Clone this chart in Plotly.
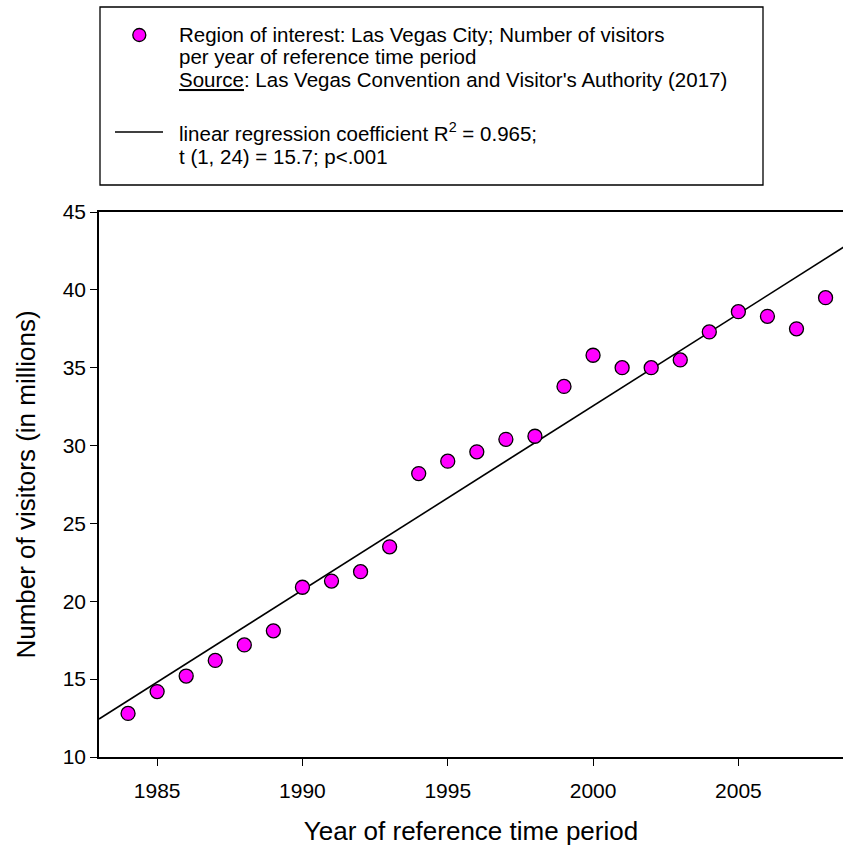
import numpy as np
import plotly.graph_objects as go

years = list(range(1984, 2009))
visitors = [12.8, 14.2, 15.2, 16.2, 17.2, 18.1, 20.9, 21.3, 21.9, 23.5,
            28.2, 29.0, 29.6, 30.4, 30.6, 33.8, 35.8, 35.0, 35.0, 35.5,
            37.3, 38.6, 38.3, 37.5, 39.5]
x_ticks = [1985, 1990, 1995, 2000, 2005]
y_ticks = [10, 15, 20, 25, 30, 35, 40, 45]
x_range = [1983, 2008.6]
y_range = [10, 45]

legend_lines_points = [
    "Region of interest: Las Vegas City; Number of visitors",
    "per year of reference time period",
    "<u>Source</u>: Las Vegas Convention and Visitor's Authority (2017)",
]
legend_lines_fit = [
    "linear regression coefficient R<sup>2</sup> = 0.965;",
    "t (1, 24) = 15.7; p<.001",
]

# regression from the data
slope, intercept = np.polyfit(years, visitors, 1)
fit_x = [x_range[0], 2010]
fit_y = [slope * v + intercept for v in fit_x]

FONT = "Liberation Sans, Arial, sans-serif"
W, H = 843, 851
L, R, T, B = 99, 0, 212, 94
PW, PH = W - L - R, H - T - B


def X(px):
    return (px - L) / PW


def Y(py):
    return (H - B - py) / PH


fig = go.Figure()
fig.add_trace(go.Scatter(x=fit_x, y=fit_y, mode="lines",
                         line=dict(color="black", width=1.6),
                         showlegend=False, hoverinfo="skip"))
fig.add_trace(go.Scatter(x=years, y=visitors, mode="markers",
                         marker=dict(size=14, color="#ff00ff",
                                     line=dict(color="black", width=1.3)),
                         showlegend=False))

shapes = [
    dict(type="rect", xref="paper", yref="paper",
         x0=X(100), x1=X(763), y0=Y(185), y1=Y(7),
         line=dict(color="black", width=1.3), fillcolor="white"),
    dict(type="circle", xref="paper", yref="paper",
         x0=X(132.8), x1=X(145.8), y0=Y(41.5), y1=Y(28.5),
         line=dict(color="black", width=1.3), fillcolor="#ff00ff"),
    dict(type="line", xref="paper", yref="paper",
         x0=X(115), x1=X(163), y0=Y(132), y1=Y(132),
         line=dict(color="black", width=1.5)),
]

LEG_FONT = dict(family=FONT, size=20.5, color="black")
annotations = []
for yc, t in zip([34.5, 56.5, 79.0], legend_lines_points):
    annotations.append(dict(text=t, xref="paper", yref="paper",
                            x=X(177), y=Y(yc), xanchor="left",
                            yanchor="middle", showarrow=False, font=LEG_FONT))
for yc, t in zip([131.5, 156.5], legend_lines_fit):
    annotations.append(dict(text=t, xref="paper", yref="paper",
                            x=X(177), y=Y(yc), xanchor="left",
                            yanchor="middle", showarrow=False, font=LEG_FONT))

fig.update_layout(
    width=W, height=H,
    margin=dict(l=L, r=R, t=T, b=B, autoexpand=False),
    paper_bgcolor="white", plot_bgcolor="white",
    font=dict(family=FONT, color="black"),
    shapes=shapes, annotations=annotations,
    showlegend=False,
    xaxis=dict(range=x_range, tickvals=x_ticks, showgrid=False, zeroline=False,
               showline=True, linecolor="black", linewidth=1.5, mirror=True,
               ticks="outside", ticklen=7, tickwidth=1.3, tickcolor="black",
               ticklabelstandoff=7,
               tickfont=dict(size=21, family=FONT, color="black"),
               title=dict(text="Year of reference time period",
                          font=dict(size=26, family=FONT, color="black"),
                          standoff=21)),
    yaxis=dict(range=y_range, tickvals=y_ticks, showgrid=False, zeroline=False,
               showline=True, linecolor="black", linewidth=1.5,
               ticks="outside", ticklen=7, tickwidth=1.3, tickcolor="black",
               tickfont=dict(size=21, family=FONT, color="black"),
               title=dict(text="Number of visitors (in millions)",
                          font=dict(size=26, family=FONT, color="black"),
                          standoff=20)),
)

fig.write_html(
    "out.html",
    config={"displayModeBar": False},
    post_script="document.body.style.margin='0';"
                "document.body.style.overflow='hidden';",
)
